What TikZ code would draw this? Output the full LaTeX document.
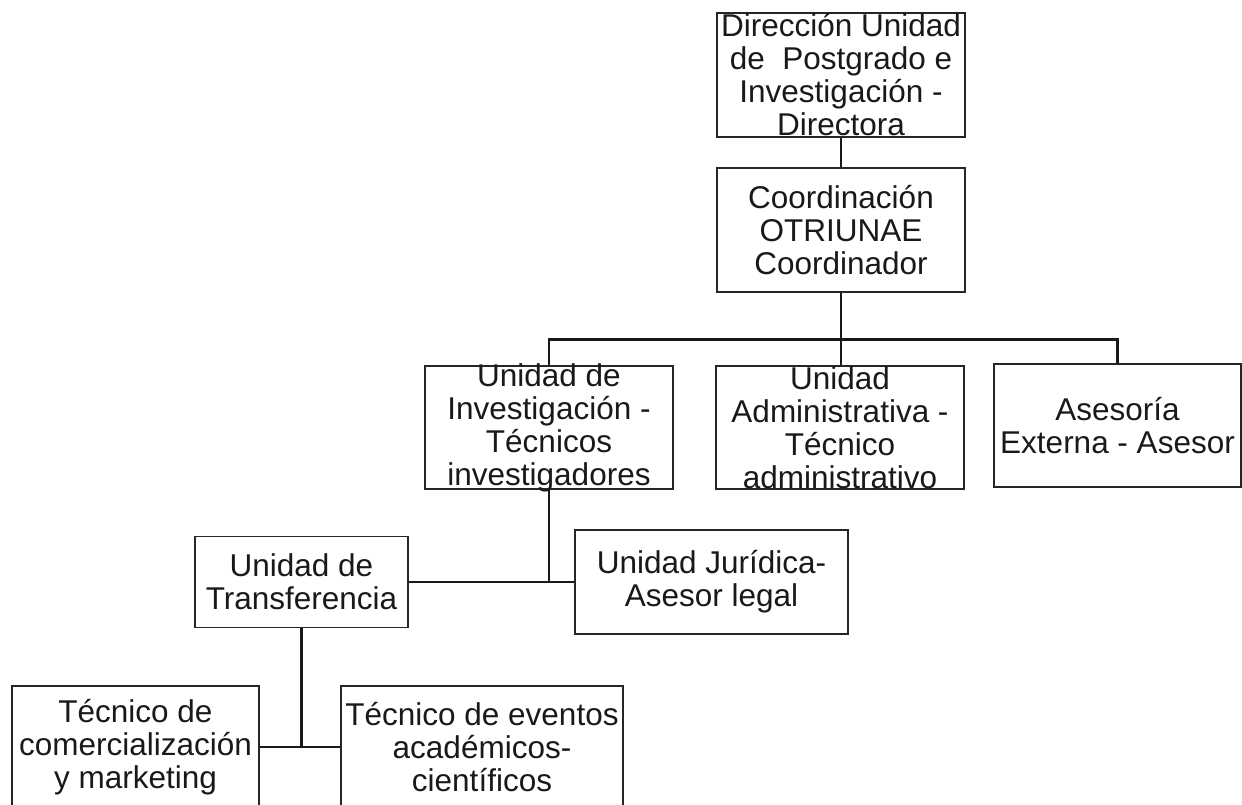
\documentclass[tikz,border=0pt]{standalone}
\usepackage{fontspec}
\setmainfont{Liberation Sans}
\begin{document}
\begin{tikzpicture}[x=1pt,y=-1pt,
  orgbox/.style={draw=black!85, line width=1.3pt, inner sep=0pt, fill=none},
  lbl/.style={inner sep=0pt, align=center, text=black!90,
    font=\fontsize{31.5}{33}\selectfont},
  link/.style={draw=black!90, line width=2.4pt}]
\useasboundingbox (0,0) rectangle (1242,804);
\clip (0,0) rectangle (1242,804);
% boxes
\node[orgbox, minimum width=248pt, minimum height=124pt] (b1) at (841,75) {};
\node[orgbox, minimum width=248pt, minimum height=124pt] (b2) at (841,230) {};
\node[orgbox, minimum width=248pt, minimum height=123pt] (b3) at (549,427.5) {};
\node[orgbox, minimum width=248pt, minimum height=123pt] (b4) at (840,427.5) {};
\node[orgbox, minimum width=247pt, minimum height=123pt] (b5) at (1117.5,425.5) {};
\node[orgbox, minimum width=213pt, minimum height=91pt] (b6) at (301.5,582) {};
\node[orgbox, minimum width=273pt, minimum height=104pt] (b7) at (711.5,582) {};
\node[orgbox, minimum width=247pt, minimum height=122pt] (b8) at (135.5,747) {};
\node[orgbox, minimum width=282pt, minimum height=122pt] (b9) at (482,747) {};
% labels
\node[lbl] at (b1.center) {Dirección Unidad\\de~~Postgrado e\\Investigación -\\Directora};
\node[lbl] at (b2.center) {Coordinación\\OTRIUNAE\\Coordinador};
\node[lbl] at (b3.center) {Unidad de\\Investigación -\\Técnicos\\investigadores};
\node[lbl] at (b4.center) {Unidad\\Administrativa -\\Técnico\\administrativo};
\node[lbl] at (b5.center) {Asesoría\\Externa - Asesor};
\node[lbl] at (b6.center) {Unidad de\\Transferencia};
\node[lbl] at (b7.center) {Unidad Jurídica-\\Asesor legal};
\node[lbl] at (b8.center) {Técnico de\\comercialización\\y marketing};
\node[lbl] at (b9.center) {Técnico de eventos\\académicos-\\científicos};
% connectors
\draw[link] (b1.south) -- (b2.north);
\draw[link] (b2.south) -- (b2.south |- b4.north);
\draw[link] (b3.north) -- ++(0,-26) -| (b5.north);
\draw[link] (b3.south) -- (b3.south |- b6.east);
\draw[link] (b6.east) -- (b6.east -| b7.west);
\draw[link] (b6.south) -- (b6.south |- b8.east);
\draw[link] (b8.east) -- (b8.east -| b9.west);
\end{tikzpicture}
\end{document}
